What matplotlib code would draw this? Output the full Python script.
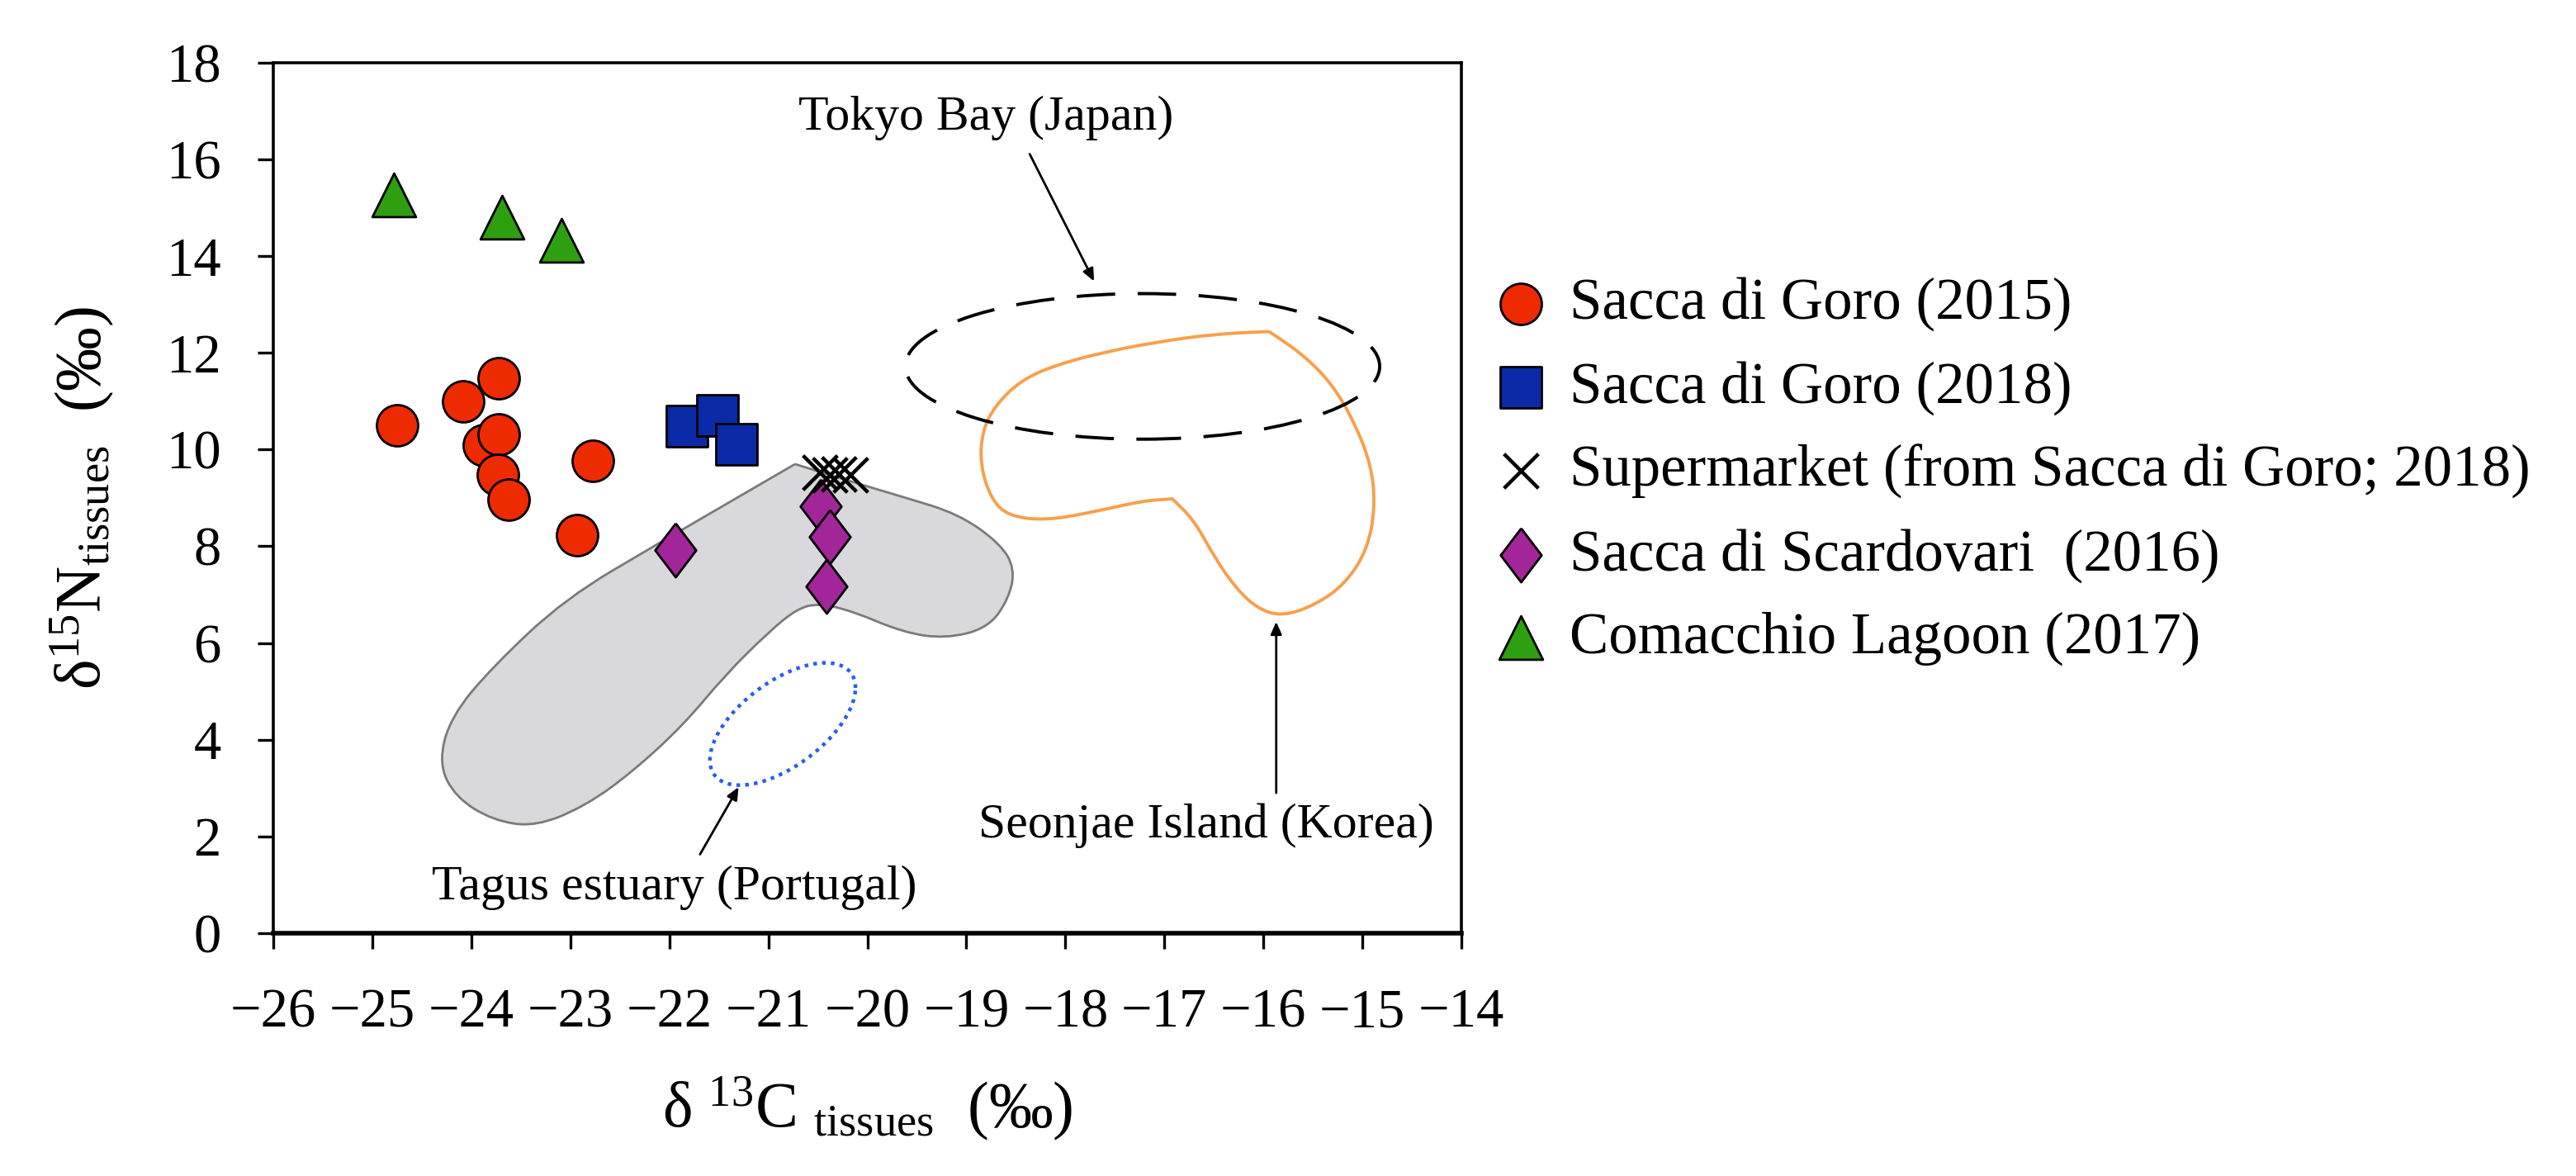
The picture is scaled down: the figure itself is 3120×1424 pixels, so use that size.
import numpy as np
import matplotlib
matplotlib.use('Agg')
import matplotlib.pyplot as plt
from matplotlib.patches import PathPatch, Ellipse
from matplotlib.path import Path

plt.rcParams['font.family'] = ['Liberation Serif', 'DejaVu Serif']
plt.rcParams['mathtext.fontset'] = 'custom'
plt.rcParams['mathtext.rm'] = 'Liberation Serif'
plt.rcParams['mathtext.it'] = 'Liberation Serif:italic'

# d13C (x) and d15N (y)
goro15_x = [-24.75, -24.08, -23.72, -23.87, -23.72, -23.73, -23.62, -22.77, -22.93]
goro15_y = [10.50, 11.00, 11.48, 10.10, 10.32, 9.48, 8.96, 9.77, 8.23]
goro18_x = [-21.82, -21.51, -21.32]
goro18_y = [10.49, 10.71, 10.11]
market_x = [-20.48, -20.38, -20.29, -20.17]
market_y = [9.52, 9.48, 9.50, 9.47]
scard_x = [-21.94, -20.47, -20.38, -20.41]
scard_y = [7.92, 8.82, 8.20, 7.17]
comac_x = [-24.78, -23.69, -23.09]
comac_y = [15.27, 14.81, 14.32]

labels = ['Sacca di Goro (2015)', 'Sacca di Goro (2018)',
          'Supermarket (from Sacca di Goro; 2018)',
          'Sacca di Scardovari  (2016)', 'Comacchio Lagoon (2017)']

# literature ranges (outline control points, first point repeated = corner)
grey_x = [-20.73, -20.15, -19.64, -19.08, -18.66, -18.51, -18.57, -18.78, -19.21,
          -19.64, -20.15, -20.49, -20.71, -21.00, -21.43, -21.86, -22.37, -22.84,
          -23.35, -23.78, -24.16, -24.33, -24.21, -23.78, -23.05, -22.11, -20.73]
grey_y = [9.70, 9.33, 9.02, 8.67, 8.06, 7.54, 6.92, 6.31, 6.09,
          6.22, 6.66, 6.82, 6.71, 6.22, 5.35, 4.30, 3.34, 2.64,
          2.20, 2.33, 2.81, 3.51, 4.47, 5.52, 6.92, 8.06, 9.70]
korea_x = [-15.94, -15.59, -15.30, -15.08, -14.91, -14.87, -14.95, -15.17, -15.47,
           -15.81, -16.06, -16.28, -16.49, -16.70, -16.92, -16.92, -17.22, -17.69,
           -18.20, -18.58, -18.75, -18.86, -18.84, -18.71, -18.45, -18.11, -17.64,
           -17.09, -16.49, -15.94]
korea_y = [12.44, 11.95, 11.34, 10.56, 9.68, 8.81, 7.93, 7.23, 6.79,
           6.55, 6.71, 7.14, 7.76, 8.54, 8.98, 8.98, 8.94, 8.72,
           8.53, 8.63, 8.98, 9.68, 10.38, 10.91, 11.43, 11.74, 12.00,
           12.22, 12.39, 12.44]
tokyo_c, tokyo_w, tokyo_h = (-17.22, 11.72), 4.79, 3.01
tagus_c, tagus_r, tagus_phase = (-20.855, 4.325), (0.735, 1.265), 0.94


def smooth_closed(xs, ys):
    # closed quadratic spline through the midpoints of the control polygon
    p = np.column_stack([xs, ys])
    m = (p + np.roll(p, -1, axis=0)) / 2
    verts = [m[-1]]
    codes = [Path.MOVETO]
    for i in range(len(p)):
        verts += [p[i], m[i]]
        codes += [Path.CURVE3, Path.CURVE3]
    return Path(verts, codes)


fig = plt.figure(figsize=(15.6, 7.12), dpi=200)
ax = fig.add_axes([0.1061, 0.2065, 0.4612, 0.7402])

ax.add_patch(PathPatch(smooth_closed(grey_x, grey_y), facecolor='#d9d9db',
                       edgecolor='#7a7a7a', lw=1.0, zorder=1))
ax.add_patch(PathPatch(smooth_closed(korea_x, korea_y), fill=False,
                       edgecolor='#f7a04c', lw=1.4, zorder=2))
ax.add_patch(Ellipse(tokyo_c, tokyo_w, tokyo_h, fill=False, edgecolor='black',
                     lw=1.4, linestyle=(0, (12, 7)), zorder=2))
t = np.linspace(0, 2 * np.pi, 300)
ax.plot(tagus_c[0] + tagus_r[0] * np.cos(t),
        tagus_c[1] + tagus_r[1] * np.cos(t - tagus_phase),
        color='#2a5cf0', lw=1.6, linestyle=(0, (1, 1.4)), zorder=2)

h1 = ax.scatter(goro15_x, goro15_y, s=18**2, marker='o', facecolor='#ee2a00',
                edgecolor='black', lw=1.0, zorder=5)
h2 = ax.scatter(goro18_x, goro18_y, s=18**2, marker='s', facecolor='#0a2aa8',
                edgecolor='black', lw=1.0, zorder=5)
h3 = ax.scatter(market_x, market_y, s=15**2, marker='x', color='black', lw=1.6, zorder=6)
diamond = [(0, 1), (0.76, 0), (0, -1), (-0.76, 0), (0, 1)]
h4 = ax.scatter(scard_x, scard_y, s=23.5**2, marker=diamond, facecolor='#a3259a',
                edgecolor='black', lw=1.0, zorder=5)
h5 = ax.scatter(comac_x, comac_y, s=19**2, marker='^', facecolor='#2f9f12',
                edgecolor='black', lw=1.0, zorder=5)

# annotations
arrow = dict(arrowstyle='-|>,head_length=0.45,head_width=0.2', color='black',
             lw=1.0, shrinkA=0, shrinkB=0)
fs_ann = 21.5
ax.text(-20.70, 16.61, 'Tokyo Bay (Japan)', fontsize=fs_ann, ha='left', va='baseline')
ax.annotate('', xy=(-17.71, 13.48), xytext=(-18.36, 16.11), arrowprops=arrow)
ax.text(-24.40, 0.70, 'Tagus estuary (Portugal)', fontsize=fs_ann, ha='left', va='baseline')
ax.annotate('', xy=(-21.30, 3.02), xytext=(-21.69, 1.63), arrowprops=arrow)
ax.text(-18.88, 1.98, 'Seonjae Island (Korea)', fontsize=fs_ann, ha='left', va='baseline')
ax.annotate('', xy=(-15.87, 6.44), xytext=(-15.87, 2.90), arrowprops=arrow)

ax.set_xlim(-26, -14)
ax.set_ylim(0, 18)
ax.set_xticks(np.arange(-26, -13, 1))
ax.set_yticks(np.arange(0, 19, 2))
ax.tick_params(direction='out', length=6.8, width=1.2, labelsize=24)
ax.tick_params(axis='x', pad=17)
ax.tick_params(axis='y', pad=16)
for side in ['left', 'top', 'right']:
    ax.spines[side].set_linewidth(1.3)
ax.spines['bottom'].set_linewidth(2.0)

ax.set_xlabel(r'$\mathrm{\delta\ {}^{13}C\ {}_{tissues}}$  (‰)', fontsize=28, labelpad=16)
ax.set_ylabel(r'$\mathrm{\delta^{15}N_{tissues}}$  (‰)', fontsize=28, labelpad=22)

fig.legend([h1, h2, h3, h4, h5], labels, loc='center left',
           bbox_to_anchor=(0.579, 0.599), frameon=False, fontsize=25.5,
           scatterpoints=1, handlelength=1.0, handletextpad=0.34,
           labelspacing=0.5, borderpad=0, borderaxespad=0)

fig.savefig('out.png', dpi=200)
